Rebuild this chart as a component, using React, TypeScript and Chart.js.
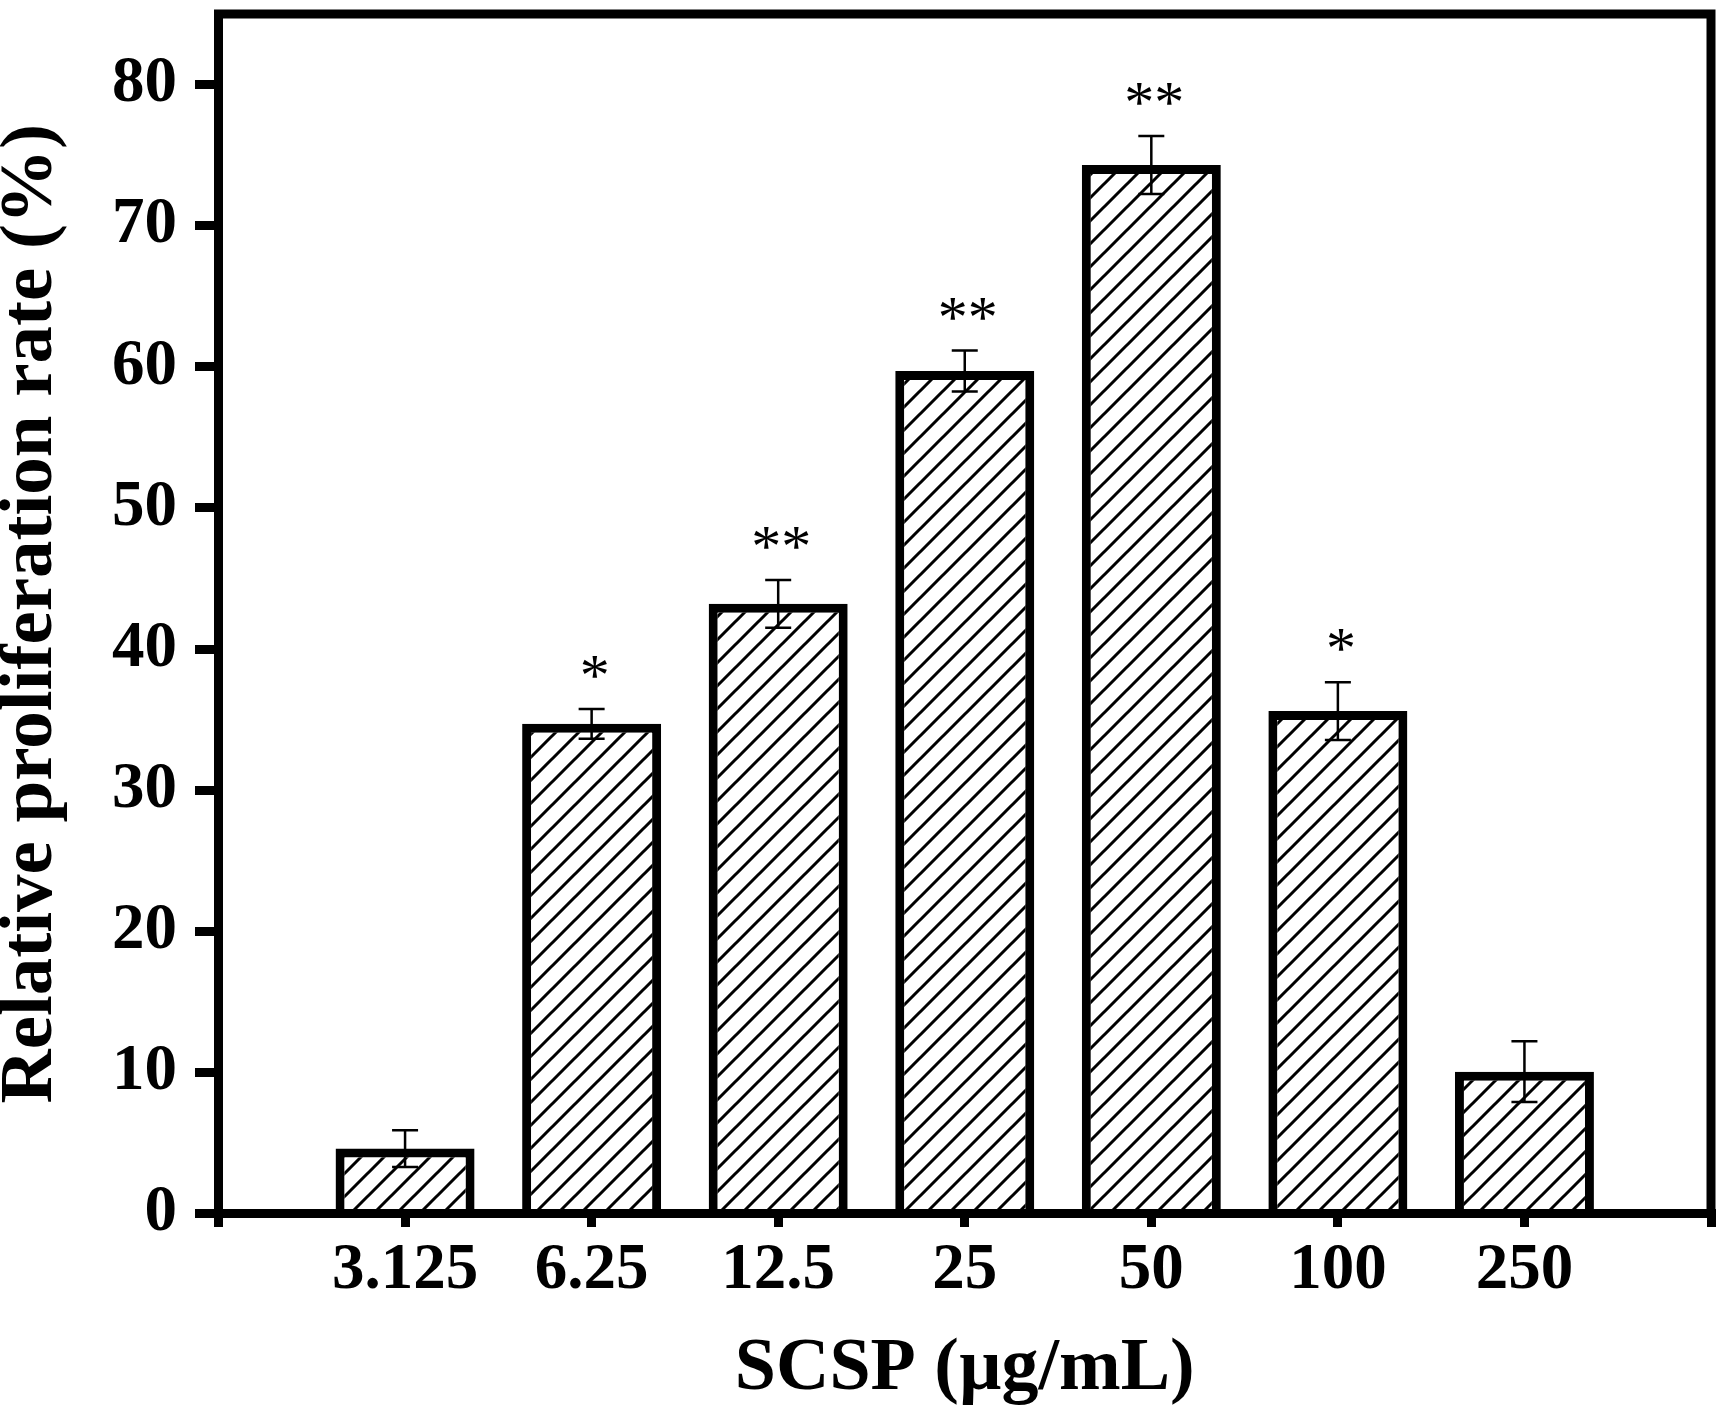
import React, { useEffect, useRef } from 'react';
import { Chart, registerables } from 'chart.js';

Chart.register(...registerables);

// ---- data ----
const categories = ['3.125', '6.25', '12.5', '25', '50', '100', '250'];
const means = [4.6, 34.7, 43.2, 59.7, 74.3, 35.6, 10.05];
const errors = [1.3, 1.05, 1.7, 1.45, 2.05, 2.05, 2.15];
const marks = ['', '*', '**', '**', '**', '*', ''];
const yMin = 0;
const yMax = 85;
const yStep = 10;
const xTitle = 'SCSP (µg/mL)';
const yTitle = 'Relative proliferation rate (%)';

const FONT = "'Liberation Serif', 'Times New Roman', serif";

function makeHatch(): CanvasPattern | string {
  const p = 23;
  const c = document.createElement('canvas');
  c.width = p;
  c.height = p;
  const g = c.getContext('2d');
  if (!g) return '#fff';
  g.fillStyle = '#fff';
  g.fillRect(0, 0, p, p);
  g.strokeStyle = '#000';
  g.lineWidth = 3;
  g.beginPath();
  for (const k of [0, p, 2 * p]) {
    g.moveTo(-3, k + 3);
    g.lineTo(p + 3, k - p - 3);
  }
  g.stroke();
  const pat = g.createPattern(c, 'repeat');
  return pat || '#fff';
}

const framePlugin = {
  id: 'frame',
  afterDatasetsDraw(chart: any) {
    const { ctx, chartArea } = chart;
    ctx.save();
    ctx.strokeStyle = '#000';
    ctx.lineWidth = 9;
    ctx.lineJoin = 'miter';
    ctx.strokeRect(chartArea.left, chartArea.top, chartArea.right - chartArea.left, chartArea.bottom - chartArea.top);
    ctx.restore();
  },
};

const errorPlugin = {
  id: 'errorbars',
  afterDatasetsDraw(chart: any) {
    const { ctx } = chart;
    const xs = chart.scales.x;
    const ys = chart.scales.y;
    ctx.save();
    ctx.strokeStyle = '#000';
    ctx.fillStyle = '#000';
    ctx.lineWidth = 2.5;
    const cap = 13;
    means.forEach((m, i) => {
      const x = xs.getPixelForValue(i + 1);
      const yt = ys.getPixelForValue(m + errors[i]);
      const yb = ys.getPixelForValue(m - errors[i]);
      ctx.beginPath();
      ctx.moveTo(x, yt);
      ctx.lineTo(x, yb);
      ctx.moveTo(x - cap, yt);
      ctx.lineTo(x + cap, yt);
      ctx.moveTo(x - cap, yb);
      ctx.lineTo(x + cap, yb);
      ctx.stroke();
      if (marks[i]) {
        ctx.font = `normal 60px ${FONT}`;
        ctx.textAlign = 'center';
        ctx.textBaseline = 'alphabetic';
        ctx.fillText(marks[i], x + 3, yt - 14);
      }
    });
    ctx.restore();
  },
};

export default function App() {
  const ref = useRef<HTMLCanvasElement | null>(null);

  useEffect(() => {
    document.body.style.margin = '0';
    const canvas = ref.current;
    if (!canvas) return;
    const hatch = makeHatch();
    const labels = ['', ...categories, ''];
    const data = [null, ...means, null];

    const chart = new Chart(canvas, {
      type: 'bar',
      data: {
        labels,
        datasets: [
          {
            data,
            backgroundColor: hatch as any,
            borderColor: '#000',
            borderWidth: 9,
            borderSkipped: 'start',
            barPercentage: 0.745,
            categoryPercentage: 1,
          } as any,
        ],
      },
      options: {
        animation: false,
        responsive: false,
        maintainAspectRatio: false,
        layout: { padding: { left: 0, right: 14, top: 14, bottom: 0 } },
        plugins: {
          legend: { display: false },
          tooltip: { enabled: false },
        },
        scales: {
          x: {
            type: 'category',
            offset: false,
            grid: {
              display: true,
              drawOnChartArea: false,
              drawTicks: true,
              tickLength: 13.5,
              lineWidth: 9,
              color: '#000',
              offset: false,
            },
            border: { display: true, width: 9, color: '#000' },
            ticks: {
              autoSkip: false,
              maxRotation: 0,
              minRotation: 0,
              color: '#000',
              padding: 5,
              font: { family: FONT, size: 65, weight: 'bold' },
            },
            title: {
              display: true,
              text: xTitle,
              color: '#000',
              font: { family: FONT, size: 74, weight: 'bold', lineHeight: 1 },
              padding: { top: 0, bottom: 18.5 },
            },
            afterFit: (s: any) => {
              s.height = 1425 - 1213.5;
              s.paddingLeft = 0;
              s.paddingRight = 0;
            },
          },
          y: {
            min: yMin,
            max: yMax,
            grid: {
              display: true,
              drawOnChartArea: false,
              drawTicks: true,
              tickLength: 23.5,
              lineWidth: 9,
              color: '#000',
            },
            border: { display: true, width: 9, color: '#000' },
            ticks: {
              stepSize: yStep,
              includeBounds: false,
              color: '#000',
              padding: 18,
              font: { family: FONT, size: 65, weight: 'bold' },
            },
            title: {
              display: true,
              text: yTitle,
              color: '#000',
              font: { family: FONT, size: 75, weight: 'bold', lineHeight: 0.85 },
              padding: 0,
            },
            afterFit: (s: any) => {
              s.width = 218.5;
              s.paddingTop = 0;
              s.paddingBottom = 0;
            },
          },
        },
      } as any,
      plugins: [framePlugin, errorPlugin],
    });
    return () => chart.destroy();
  }, []);

  return (
    <div style={{ width: 1725, height: 1425, background: '#fff' }}>
      <canvas ref={ref} width={1725} height={1425} style={{ display: 'block' }} />
    </div>
  );
}
